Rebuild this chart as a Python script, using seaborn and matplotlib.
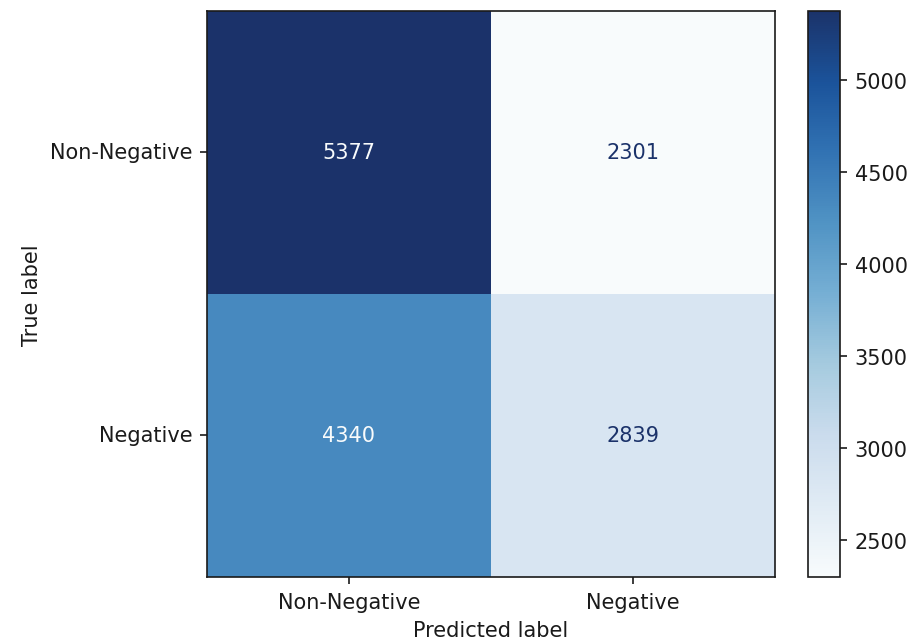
import numpy as np
import pandas as pd
import matplotlib
matplotlib.use("Agg")
import matplotlib.pyplot as plt
from matplotlib.colors import ListedColormap
import seaborn as sns

# Confusion matrix counts (rows = true label, columns = predicted label)
class_names = ["Non-Negative", "Negative"]
row_non_negative = [5377, 2301]
row_negative = [4340, 2839]
cbar_ticks = [2500, 3000, 3500, 4000, 4500, 5000]

cm = pd.DataFrame([row_non_negative, row_negative],
                  index=class_names, columns=class_names)

plt.rcParams["font.family"] = ["DejaVu Sans"]
plt.rcParams["font.size"] = 10

# Slightly softened "Blues" palette
base = plt.get_cmap("Blues")(np.linspace(0, 1, 256))
base[:, 0] = base[:, 0] + 0.075 * (1 - base[:, 0])
base[:, 1] = base[:, 1] + 0.012 * (1 - base[:, 1])
base[:, 2] = base[:, 2] - 0.01 * base[:, 2]
cmap = ListedColormap(np.clip(base, 0, 1), name="soft_blues")

fig = plt.figure(figsize=(6.1, 4.2933), dpi=150)
ax = fig.add_axes([0.2262, 0.1025, 0.6208, 0.8789])
cax = fig.add_axes([0.8831, 0.1025, 0.0350, 0.8789])

vmin, vmax = cm.values.min(), cm.values.max()

sns.heatmap(cm, ax=ax, cbar_ax=cax, cmap=cmap, vmin=vmin, vmax=vmax,
            annot=True, fmt="d", annot_kws={"fontsize": 10},
            cbar_kws={"ticks": cbar_ticks})

# Text colour follows the colormap extremes relative to the midpoint
thresh = (vmin + vmax) / 2.0
for txt, val in zip(ax.texts, cm.values.ravel()):
    txt.set_color(cmap(0.0) if val >= thresh else cmap(1.0))

# Frame and ticks like a standard matplotlib axes
for side in ["left", "right", "top", "bottom"]:
    ax.spines[side].set_visible(True)
    ax.spines[side].set_linewidth(0.8)
    ax.spines[side].set_color("#1a1a1a")
ax.tick_params(axis="both", which="both", length=3.5, width=0.8,
               color="#1a1a1a", labelcolor="#1a1a1a", labelsize=10)
ax.set_yticklabels(class_names, rotation=0, va="center")
ax.set_xticklabels(class_names, rotation=0)
ax.set_xlabel("Predicted label", fontsize=10, color="#1a1a1a")
ax.set_ylabel("True label", fontsize=10, color="#1a1a1a")

cbar = ax.collections[0].colorbar
cbar.outline.set_visible(True)
cbar.outline.set_linewidth(0.8)
cbar.outline.set_edgecolor("#1a1a1a")
cax.tick_params(length=3.5, width=0.8, labelsize=10,
                color="#1a1a1a", labelcolor="#1a1a1a")

fig.savefig("out.png", dpi=150)
